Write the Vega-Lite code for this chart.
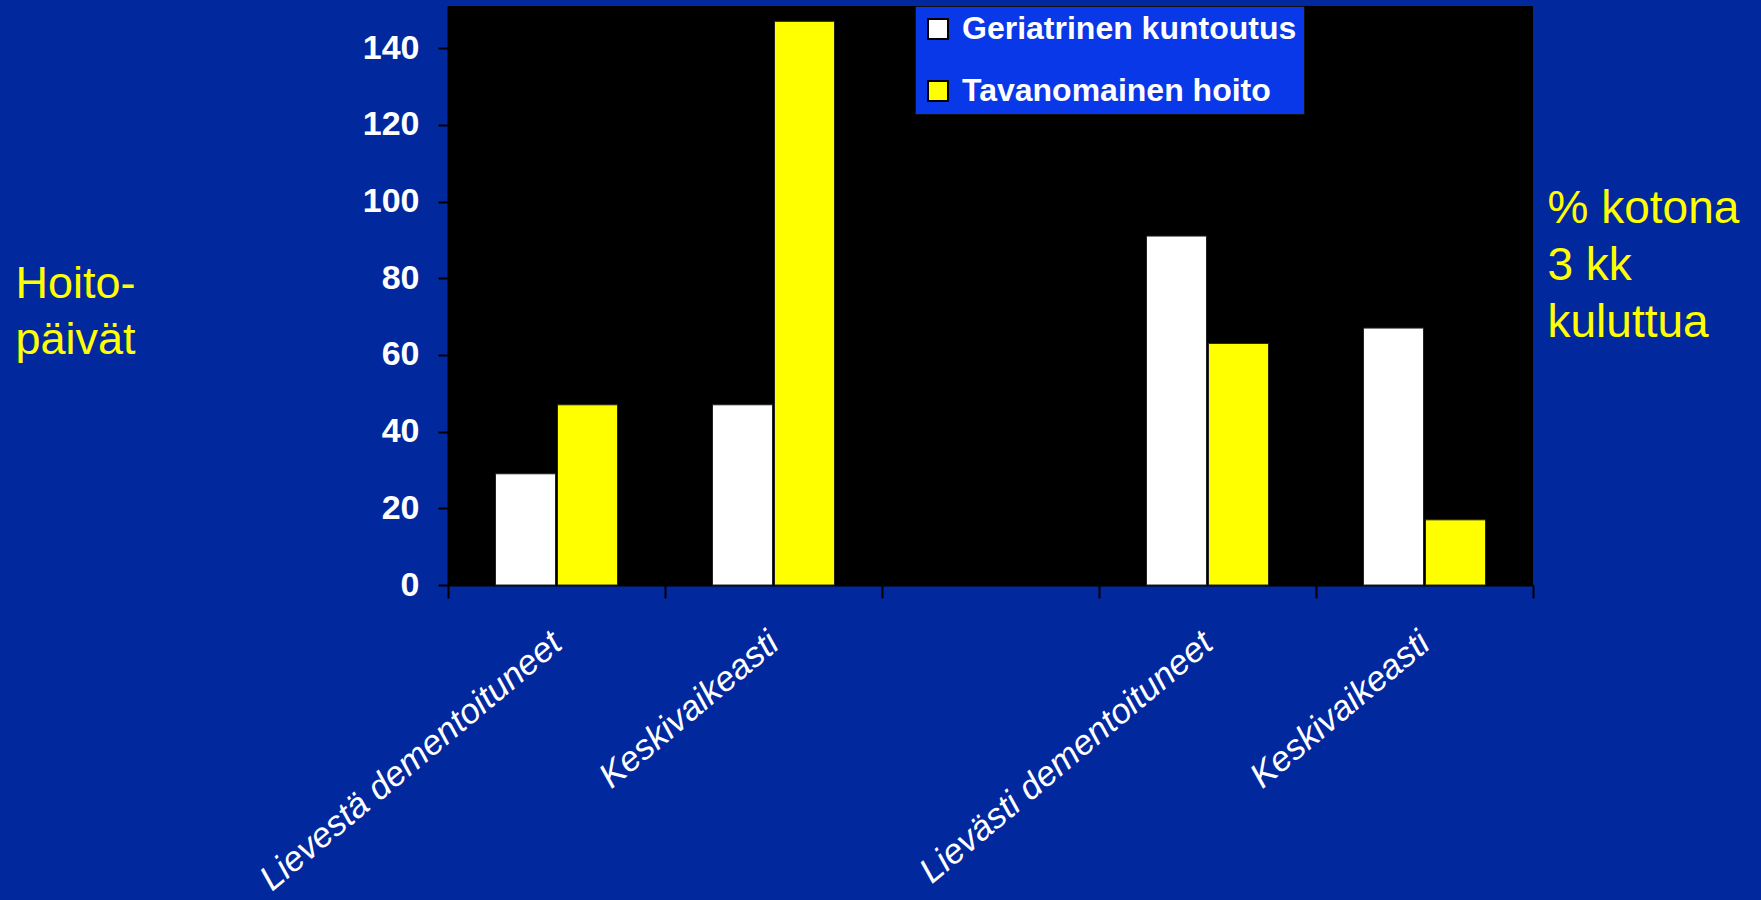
{
  "$schema": "https://vega.github.io/schema/vega-lite/v6.json",
  "width": 1085,
  "height": 579,
  "autosize": {"type": "none"},
  "padding": {"left": 448, "top": 6, "right": 228, "bottom": 315},
  "background": "#02289e",
  "data": {
    "values": [
      {"group": "Lievestä dementoituneet", "series": "Geriatrinen kuntoutus", "value": 29},
      {"group": "Lievestä dementoituneet", "series": "Tavanomainen hoito", "value": 47},
      {"group": "Keskivaikeasti", "series": "Geriatrinen kuntoutus", "value": 47},
      {"group": "Keskivaikeasti", "series": "Tavanomainen hoito", "value": 147},
      {"group": "Lievästi dementoituneet", "series": "Geriatrinen kuntoutus", "value": 91},
      {"group": "Lievästi dementoituneet", "series": "Tavanomainen hoito", "value": 63},
      {"group": "Keskivaikeasti ", "series": "Geriatrinen kuntoutus", "value": 67},
      {"group": "Keskivaikeasti ", "series": "Tavanomainen hoito", "value": 17}
    ]
  },
  "encoding": {
    "x": {
      "field": "group",
      "type": "nominal",
      "scale": {
        "domain": ["Lievestä dementoituneet", "Keskivaikeasti", " ", "Lievästi dementoituneet", "Keskivaikeasti "],
        "paddingInner": 0,
        "paddingOuter": 0
      },
      "axis": {
        "title": null,
        "tickBand": "extent",
        "tickSize": 13,
        "tickColor": "black",
        "tickWidth": 2,
        "domainColor": "black",
        "domainWidth": 2,
        "labelAngle": -40,
        "labelAlign": "right",
        "labelBaseline": "middle",
        "labelPadding": 40,
        "labelFont": "Liberation Sans",
        "labelFontStyle": "italic",
        "labelFontSize": 35,
        "labelColor": "white",
        "labelLimit": 0
      }
    },
    "xOffset": {
      "field": "series",
      "type": "nominal",
      "scale": {"domain": ["Geriatrinen kuntoutus", "Tavanomainen hoito"], "paddingInner": 0.032, "paddingOuter": 0.766}
    },
    "y": {"field": "value", "type": "quantitative"},
    "color": {
      "field": "series",
      "type": "nominal",
      "scale": {"domain": ["Geriatrinen kuntoutus", "Tavanomainen hoito"], "range": ["#ffffff", "#ffff00"]},
      "legend": {"title": null}
    }
  },
  "layer": [
    {
      "mark": {"type": "bar", "stroke": "#222222", "strokeWidth": 1},
      "encoding": {
        "y": {
          "field": "value",
          "type": "quantitative",
          "scale": {"domain": [0, 151], "nice": false},
          "axis": {
            "values": [0, 20, 40, 60, 80, 100, 120, 140],
            "grid": false,
            "tickSize": 10,
            "tickColor": "black",
            "tickWidth": 2,
            "domainColor": "black",
            "domainWidth": 2,
            "labelPadding": 19,
            "labelFont": "Liberation Sans",
            "labelFontWeight": "bold",
            "labelFontSize": 34,
            "labelColor": "white",
            "title": ["Hoito-", "päivät"],
            "titleAngle": 0,
            "titleAlign": "left",
            "titleBaseline": "alphabetic",
            "titleX": -433,
            "titleY": 291,
            "titleFont": "Liberation Sans",
            "titleFontSize": 45,
            "titleFontWeight": "normal",
            "titleColor": "#ffff00",
            "titleLineHeight": 56
          }
        }
      }
    },
    {
      "mark": {"type": "bar", "opacity": 0},
      "encoding": {
        "y": {
          "field": "value",
          "type": "quantitative",
          "scale": {"domain": [0, 151], "nice": false},
          "axis": {
            "orient": "right",
            "grid": false,
            "labels": false,
            "ticks": false,
            "domain": false,
            "title": ["% kotona", "3 kk", "kuluttua"],
            "titleAngle": 0,
            "titleAlign": "left",
            "titleBaseline": "alphabetic",
            "titleX": 14,
            "titleY": 216,
            "titleFont": "Liberation Sans",
            "titleFontSize": 46,
            "titleFontWeight": "normal",
            "titleColor": "#ffff00",
            "titleLineHeight": 57
          }
        }
      }
    }
  ],
  "resolve": {"scale": {"y": "independent"}, "axis": {"y": "independent"}},
  "config": {
    "view": {"fill": "#000000", "stroke": null},
    "legend": {
      "orient": "none",
      "legendX": 467,
      "legendY": 0,
      "fillColor": "#0838e8",
      "strokeColor": "#111111",
      "padding": 7,
      "rowPadding": 30,
      "labelFont": "Liberation Sans",
      "labelFontSize": 32,
      "labelFontWeight": "bold",
      "labelColor": "#ffffff",
      "labelLimit": 0,
      "labelOffset": 8,
      "symbolType": "square",
      "symbolSize": 400,
      "symbolStrokeColor": "#000000",
      "symbolStrokeWidth": 2,
      "symbolOpacity": 1
    }
  }
}
